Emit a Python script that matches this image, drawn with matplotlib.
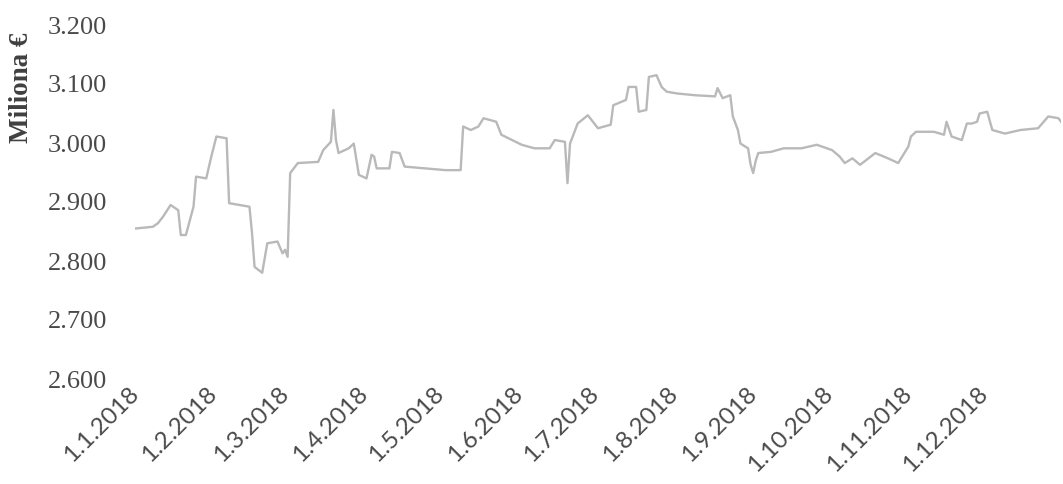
import matplotlib
matplotlib.use("Agg")
import matplotlib.pyplot as plt
import matplotlib.dates as mdates
from matplotlib.ticker import FuncFormatter, FixedLocator
import numpy as np

dates = [
    "2018-01-01", "2018-01-08", "2018-01-10", "2018-01-12", "2018-01-15", "2018-01-18",
    "2018-01-19", "2018-01-21", "2018-01-24", "2018-01-25", "2018-01-29", "2018-01-31",
    "2018-02-02", "2018-02-06", "2018-02-07", "2018-02-15", "2018-02-16", "2018-02-17",
    "2018-02-20", "2018-02-22", "2018-02-26", "2018-02-28", "2018-03-01", "2018-03-02",
    "2018-03-03", "2018-03-06", "2018-03-14", "2018-03-16", "2018-03-19", "2018-03-20",
    "2018-03-21", "2018-03-22", "2018-03-26", "2018-03-28", "2018-03-30", "2018-04-02",
    "2018-04-04", "2018-04-05", "2018-04-06", "2018-04-11", "2018-04-12", "2018-04-15",
    "2018-04-17", "2018-05-03", "2018-05-09", "2018-05-10", "2018-05-13", "2018-05-16",
    "2018-05-18", "2018-05-23", "2018-05-25", "2018-06-02", "2018-06-07", "2018-06-13",
    "2018-06-15", "2018-06-19", "2018-06-20", "2018-06-21", "2018-06-24", "2018-06-28",
    "2018-07-02", "2018-07-07", "2018-07-08", "2018-07-13", "2018-07-14", "2018-07-17",
    "2018-07-18", "2018-07-21", "2018-07-22", "2018-07-25", "2018-07-27", "2018-07-29",
    "2018-08-02", "2018-08-09", "2018-08-17", "2018-08-18", "2018-08-20", "2018-08-23",
    "2018-08-24", "2018-08-26", "2018-08-27", "2018-08-30", "2018-08-31", "2018-09-01",
    "2018-09-02", "2018-09-03", "2018-09-08", "2018-09-13", "2018-09-20", "2018-09-26",
    "2018-10-02", "2018-10-05", "2018-10-07", "2018-10-10", "2018-10-13", "2018-10-19",
    "2018-10-24", "2018-10-28", "2018-10-30", "2018-11-01", "2018-11-02", "2018-11-04",
    "2018-11-11", "2018-11-15", "2018-11-16", "2018-11-18", "2018-11-22", "2018-11-24",
    "2018-11-26", "2018-11-28", "2018-11-29", "2018-12-02", "2018-12-04", "2018-12-09",
    "2018-12-15", "2018-12-22", "2018-12-26", "2018-12-30", "2018-12-31",
]
values = [
    2855, 2858, 2864, 2875, 2895, 2886,
    2844, 2844, 2892, 2943, 2940, 2977,
    3011, 3008, 2898, 2892, 2847, 2790,
    2780, 2830, 2833, 2813, 2819, 2807,
    2949, 2966, 2968, 2988, 3002, 3056,
    3005, 2983, 2991, 2999, 2946, 2940,
    2980, 2977, 2957, 2957, 2985, 2983,
    2960, 2954, 2954, 3028, 3022, 3028,
    3042, 3036, 3014, 2997, 2991, 2991,
    3005, 3002, 2932, 2999, 3033, 3047,
    3025, 3031, 3064, 3073, 3095, 3095,
    3053, 3056, 3112, 3115, 3095, 3087,
    3084, 3081, 3079, 3093, 3076, 3081,
    3045, 3022, 2999, 2991, 2963, 2949,
    2970, 2983, 2985, 2991, 2991, 2997,
    2988, 2977, 2966, 2974, 2963, 2983,
    2974, 2966, 2980, 2994, 3011, 3019,
    3019, 3014, 3036, 3011, 3005, 3033,
    3033, 3036, 3050, 3053, 3022, 3016,
    3022, 3025, 3045, 3042, 3036,
]
tick_dates = ["2018-01-01", "2018-02-01", "2018-03-01", "2018-04-01", "2018-05-01",
              "2018-06-01", "2018-07-01", "2018-08-01", "2018-09-01", "2018-10-01",
              "2018-11-01", "2018-12-01"]
y_ticks = [2600, 2700, 2800, 2900, 3000, 3100, 3200]
y_label = "Miliona €"

x = np.array(dates, dtype="datetime64[D]")
y = np.array(values, dtype=float)

W, H = 1063, 484
fig = plt.figure(figsize=(W / 100, H / 100), dpi=100)
fig.patch.set_facecolor("white")
ax = fig.add_axes([135 / W, 1 - 379 / H, 926 / W, (379 - 25) / H])

ax.plot(x, y, color="#b9b9b9", lw=1.7, solid_joinstyle="round")

ax.set_xlim(np.datetime64("2018-01-01"), np.datetime64("2018-12-31"))
ax.set_ylim(2600, 3200)

tick_nums = mdates.date2num(np.array(tick_dates, dtype="datetime64[D]"))
ax.xaxis.set_major_locator(FixedLocator(tick_nums))

def fmt_date(v, pos):
    d = mdates.num2date(v)
    return f"{d.day}.{d.month}.{d.year}"

ax.xaxis.set_major_formatter(FuncFormatter(fmt_date))
ax.set_yticks(y_ticks)
ax.yaxis.set_major_formatter(FuncFormatter(lambda v, p: f"{int(v):,}".replace(",", ".")))

for s in ax.spines.values():
    s.set_visible(False)
ax.tick_params(axis="both", length=0)
ax.tick_params(axis="y", pad=20)
ax.tick_params(axis="x", pad=8)

for lab in ax.get_yticklabels():
    lab.set_fontfamily("Liberation Serif")
    lab.set_fontsize(19)
    lab.set_color("#4a4a4a")
for lab in ax.get_xticklabels():
    lab.set_fontfamily("Lato")
    lab.set_fontsize(17.5)
    lab.set_color("#4a4a4a")
    lab.set_rotation(45)
    lab.set_ha("right")
    lab.set_va("center")
    lab.set_rotation_mode("anchor")

fig.text(22 / W, 1 - 88 / H, y_label, rotation=90, ha="center", va="center",
         fontfamily="Liberation Serif", fontweight="bold", fontsize=19.5, color="#404040")

fig.savefig("out.png", dpi=100, facecolor="white")
